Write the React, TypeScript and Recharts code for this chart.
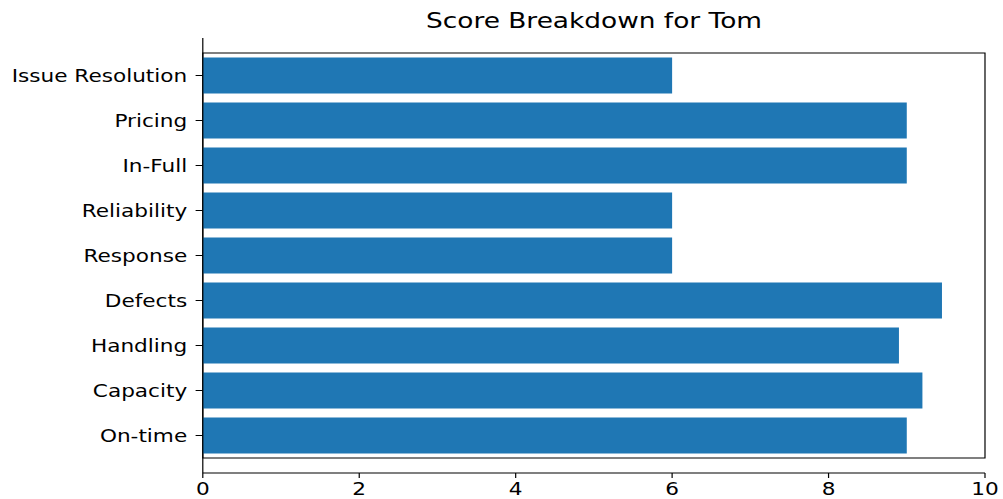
import { BarChart, Bar, XAxis, YAxis, ReferenceArea } from 'recharts';

// listed bottom to top, like the source plot
const categories = [
  'On-time',
  'Capacity',
  'Handling',
  'Defects',
  'Response',
  'Reliability',
  'In-Full',
  'Pricing',
  'Issue Resolution',
];
const scores = [9.0, 9.2, 8.9, 9.45, 6.0, 6.0, 9.0, 9.0, 6.0];
const xTicks = [0, 2, 4, 6, 8, 10];

const data = categories.map((name, i) => ({ name, score: scores[i] }));

// the reference is stretched sideways, so draw narrower and scale on x
const SX = 1.2;
const W = 1003 / SX;
const H = 499;

const tickStyle = { fill: '#000', fontSize: 18 };

export default function App() {
  return (
    <div
      style={{
        position: 'absolute',
        left: 0,
        top: 0,
        width: W,
        height: H,
        transform: `scaleX(${SX})`,
        transformOrigin: '0 0',
        fontFamily: '"DejaVu Sans", sans-serif',
        background: '#fff',
      }}
    >
      <svg
        width={W}
        height={40}
        style={{ position: 'absolute', left: 0, top: 0 }}
      >
        <text x={495} y={28} textAnchor="middle" fontSize={22} fill="#000">
          Score Breakdown for Tom
        </text>
      </svg>
      <BarChart
        width={W}
        height={H}
        data={data}
        layout="vertical"
        barCategoryGap="10%"
        margin={{ top: 38, right: 15, bottom: 0, left: 0 }}
        style={{ position: 'absolute', left: 0, top: 0 }}
      >
        <XAxis
          type="number"
          domain={[0, 10]}
          ticks={xTicks}
          height={26}
          tickSize={5}
          tickMargin={4}
          tick={tickStyle}
          axisLine={{ stroke: '#000' }}
          tickLine={{ stroke: '#000' }}
        />
        <YAxis
          type="category"
          dataKey="name"
          reversed
          width={169}
          interval={0}
          padding={{ top: 15, bottom: 15 }}
          tickSize={6}
          tickMargin={7}
          tick={tickStyle}
          axisLine={{ stroke: '#000' }}
          tickLine={{ stroke: '#000' }}
        />
        <Bar dataKey="score" fill="#1f77b4" isAnimationActive={false} />
        <ReferenceArea
          x1={0}
          x2={10}
          fill="none"
          fillOpacity={0}
          stroke="#000"
          strokeWidth={1}
          ifOverflow="visible"
        />
      </BarChart>
    </div>
  );
}
